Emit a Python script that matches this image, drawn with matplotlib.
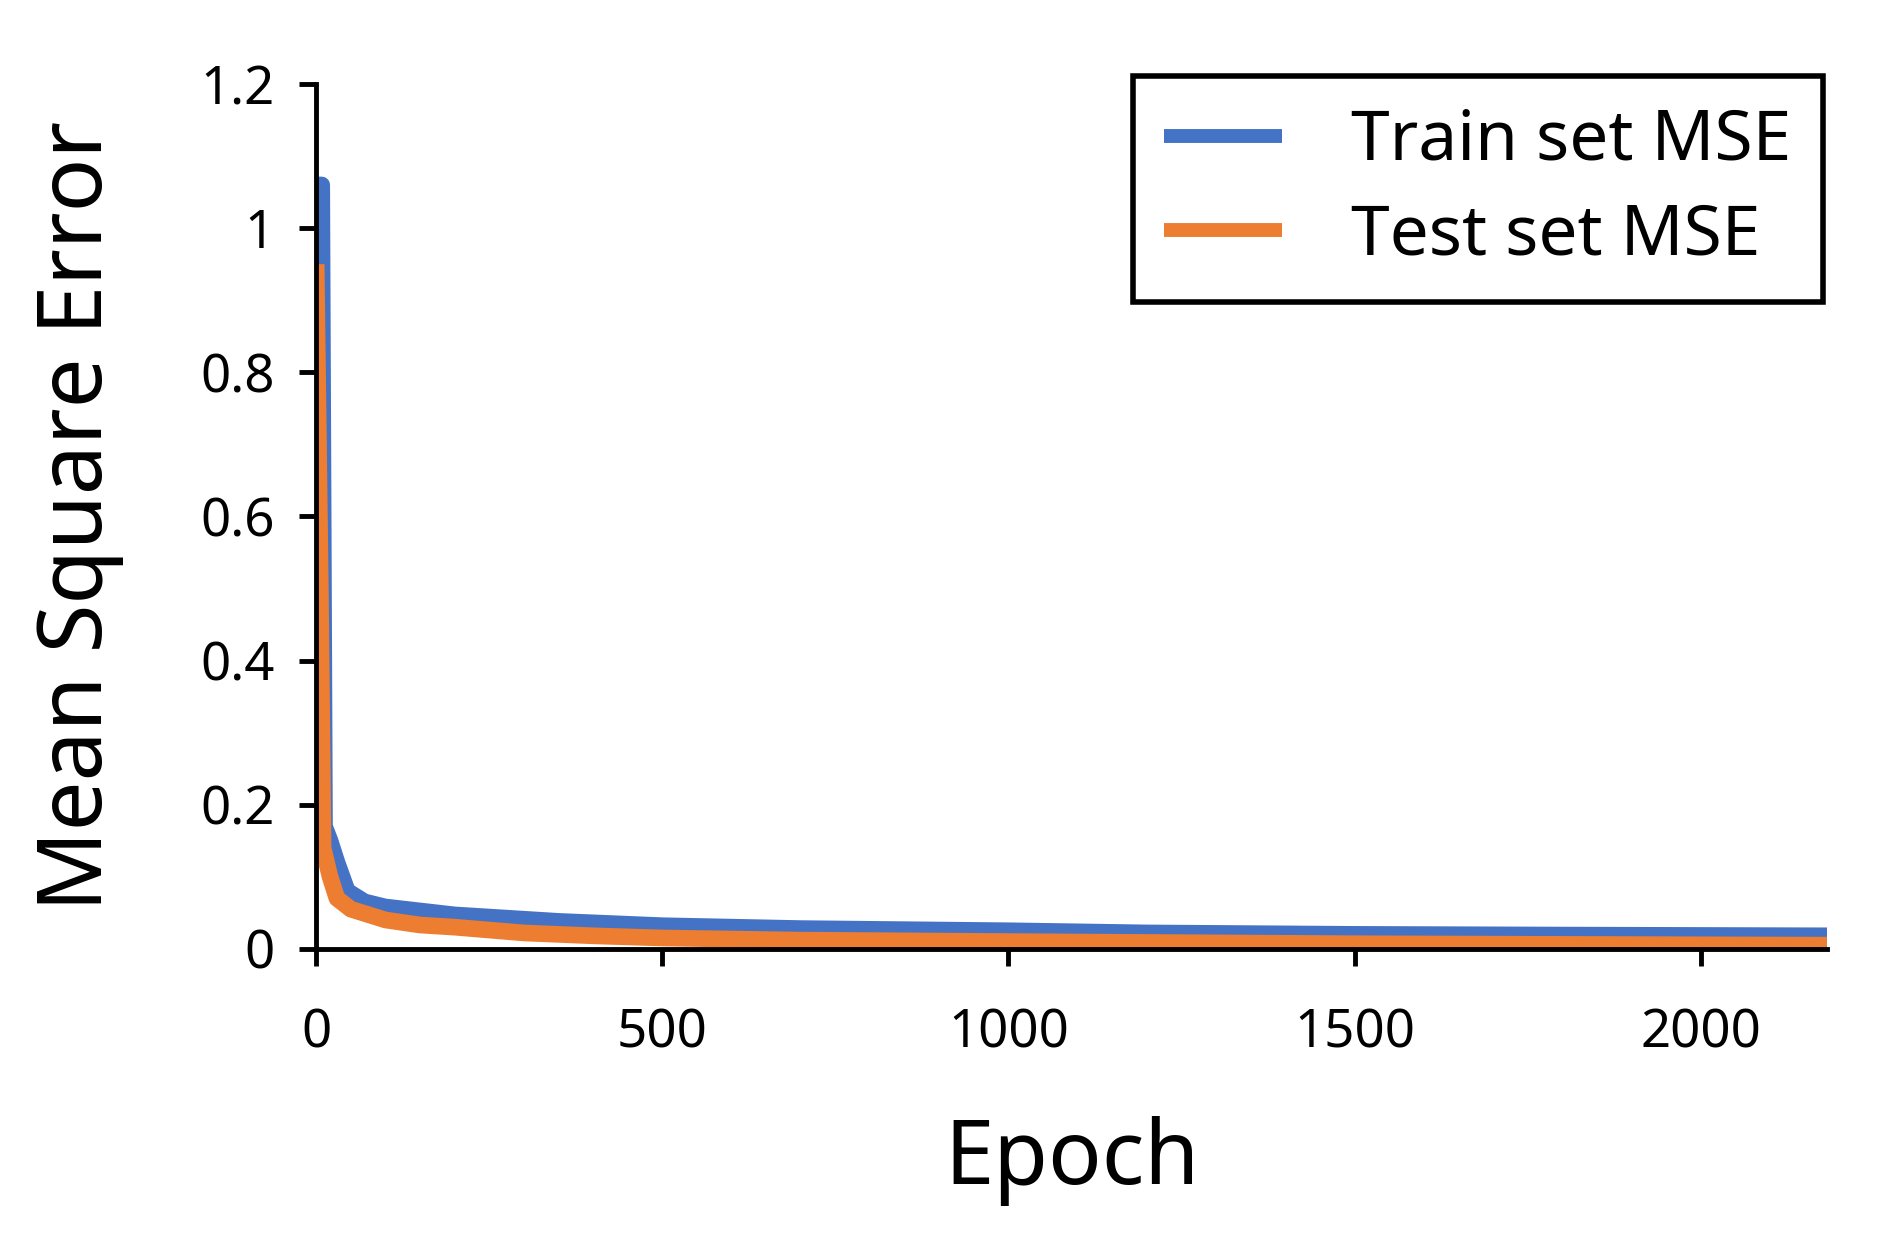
import matplotlib.pyplot as plt

# values
train_epoch = [0, 8, 12, 20, 30, 45, 70, 100, 200, 350, 500, 700, 1000, 1200, 1500, 1800, 2183]
train_mse = [1.06, 1.06, 0.17, 0.15, 0.12, 0.08, 0.065, 0.058, 0.047, 0.038, 0.032, 0.028, 0.025, 0.022, 0.02, 0.019, 0.018]
test_epoch = [0, 6, 10, 20, 30, 50, 100, 150, 200, 300, 400, 500, 700, 1000, 1500, 2183]
test_mse = [0.95, 0.5, 0.14, 0.1, 0.07, 0.055, 0.04, 0.033, 0.03, 0.022, 0.018, 0.015, 0.012, 0.01, 0.007, 0.005]
x_ticks = [0, 500, 1000, 1500, 2000]
y_ticks = [0, 0.2, 0.4, 0.6, 0.8, 1.0, 1.2]
y_labels = ['0', '0.2', '0.4', '0.6', '0.8', '1', '1.2']

plt.rcParams['font.family'] = ['Noto Sans', 'DejaVu Sans']

fig = plt.figure(figsize=(18.82, 12.55), dpi=100)
ax = fig.add_axes([0.168, 0.244, 0.803, 0.689])

ax.plot(train_epoch, train_mse, color='#4472C4', lw=12, label='Train set MSE', solid_capstyle='butt')
ax.plot(test_epoch, test_mse, color='#ED7D31', lw=12, label='Test set MSE', solid_capstyle='butt')

ax.set_xlim(0, 2183)
ax.set_ylim(0, 1.2)
ax.set_xticks(x_ticks)
ax.set_xticklabels([str(v) for v in x_ticks], fontweight='bold', fontsize=38)
ax.set_yticks(y_ticks)
ax.set_yticklabels(y_labels, fontweight='bold', fontsize=38)
for s in ['top', 'right']:
    ax.spines[s].set_visible(False)
for s in ['left', 'bottom']:
    ax.spines[s].set_linewidth(3.5)
ax.tick_params(width=3.5, length=12)
ax.tick_params(axis='y', pad=18)
ax.tick_params(axis='x', pad=30)

ax.set_xlabel('Epoch', fontsize=64, labelpad=40)
ax.set_ylabel('Mean Square Error', fontsize=64, labelpad=55)

leg = ax.legend(loc='upper right', bbox_to_anchor=(1.02, 1.05),
                prop={'weight': 'bold', 'size': 50}, frameon=True, fancybox=False,
                edgecolor='black', framealpha=1, handlelength=1.7, handletextpad=1.0,
                borderpad=0.45, labelspacing=0.35)
leg.get_frame().set_linewidth(4)
for line in leg.get_lines():
    line.set_linewidth(10)

fig.savefig('out.png', dpi=100)
